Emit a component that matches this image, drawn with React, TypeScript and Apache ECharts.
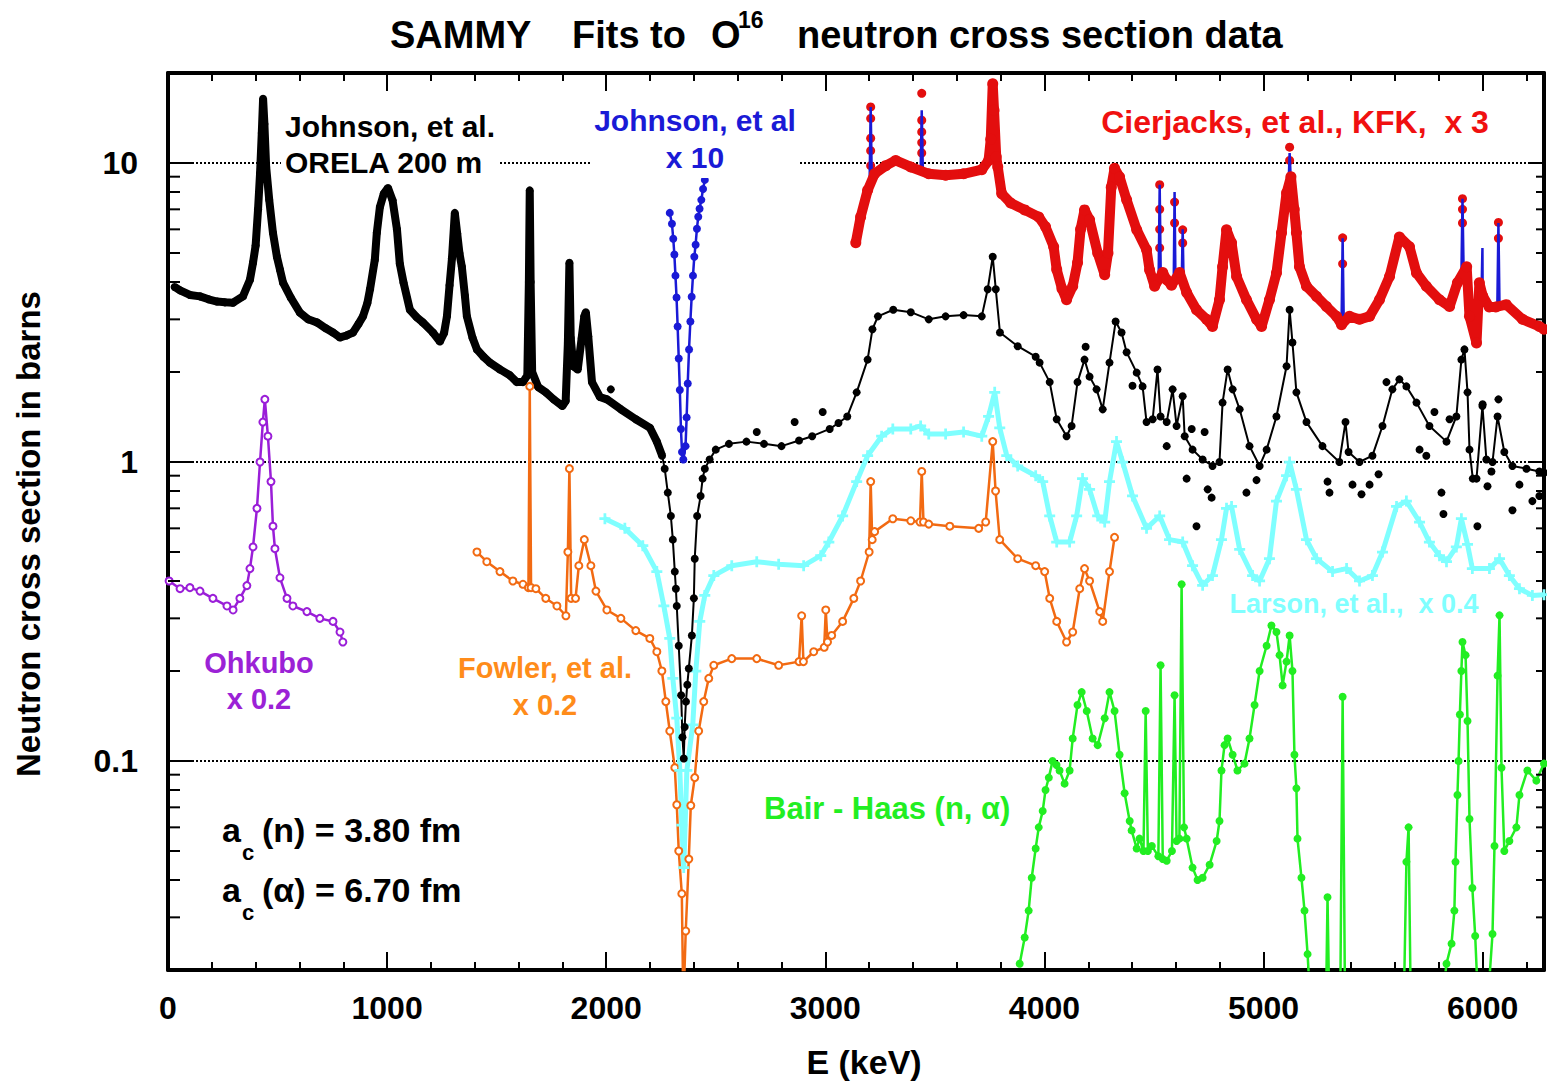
import React, { useEffect, useRef } from 'react';
import * as echarts from 'echarts';

const FONT = '"Liberation Sans", Arial, Helvetica, sans-serif';

// x-axis (keV) and y-axis (barns) ranges / tick labels
const xRange = [0, 6280];
const yRange = [0.02, 20];
const xMajorStep = 1000;
const xMinorStep = 200;
const yMinorMultipliers = [2, 3, 4, 5, 6, 7, 8, 9];
const yDecades = [-2, -1, 0, 1];

// Johnson et al., ORELA 200 m (data + fit)
const johnson: number[][] = [
  [30, 3.85], [55, 3.75], [100, 3.62], [146, 3.58], [185, 3.5], [224, 3.44], [260, 3.42], [297, 3.41], [342, 3.58],
  [374, 4.07], [388, 4.64], [400, 5.3], [411, 7.0], [420, 9.2], [428, 12.6], [434, 16.4], [440, 13.5], [448, 9.7],
  [462, 7.53], [479, 5.84], [497, 4.86], [511, 4.4], [525, 3.98], [560, 3.55], [602, 3.16], [640, 3.0], [680, 2.93],
  [720, 2.8], [753, 2.71], [785, 2.61], [815, 2.65], [844, 2.71], [870, 2.9], [890, 3.07], [910, 3.4], [922, 3.78],
  [944, 4.75], [953, 5.84], [967, 7.12], [985, 7.9], [1004, 8.25], [1025, 7.5], [1045, 6.0], [1058, 4.6], [1075, 3.98],
  [1104, 3.23], [1135, 3.05], [1163, 2.93], [1209, 2.71], [1241, 2.53], [1260, 2.7], [1273, 3.07], [1285, 3.9],
  [1296, 4.8], [1309, 6.81], [1320, 5.8], [1330, 5.0], [1341, 4.5], [1355, 3.6], [1364, 3.07], [1390, 2.6],
  [1410, 2.38], [1440, 2.25], [1469, 2.15], [1515, 2.04], [1560, 1.95], [1592, 1.85], [1620, 1.85], [1640, 1.95],
  [1647, 4.0], [1651, 8.1], [1655, 4.0], [1662, 2.0], [1690, 1.78], [1724, 1.71], [1760, 1.62], [1800, 1.54],
  [1815, 1.6], [1825, 2.5], [1832, 4.64], [1838, 2.6], [1850, 2.09], [1870, 2.04], [1888, 2.6], [1900, 3.07],
  [1907, 3.17], [1918, 2.63], [1935, 1.85], [1971, 1.65], [2003, 1.62], [2067, 1.5], [2135, 1.39], [2200, 1.3],
  [2231, 1.17], [2255, 1.05], [2267, 0.95], [2281, 0.79], [2295, 0.66], [2304, 0.55], [2313, 0.43], [2318, 0.377],
  [2322, 0.33], [2331, 0.243], [2342, 0.166], [2348, 0.12], [2354, 0.102], [2358, 0.13], [2364, 0.158], [2370, 0.18],
  [2377, 0.204], [2391, 0.263], [2400, 0.35], [2404, 0.475], [2415, 0.66], [2431, 0.77], [2440, 0.88], [2450, 0.95],
  [2472, 1.02], [2500, 1.1], [2560, 1.15], [2640, 1.17], [2720, 1.15], [2800, 1.13], [2880, 1.18], [2940, 1.22],
  [3020, 1.29], [3060, 1.35], [3100, 1.42], [3143, 1.71], [3193, 2.2], [3215, 2.78], [3240, 3.07], [3310, 3.23],
  [3390, 3.17], [3472, 3.0], [3549, 3.07], [3631, 3.1], [3714, 3.07], [3741, 3.78], [3764, 4.86], [3778, 3.78],
  [3797, 2.71], [3878, 2.44], [3960, 2.25], [3978, 2.15], [4024, 1.85], [4056, 1.39], [4101, 1.22], [4124, 1.32],
  [4151, 1.85], [4183, 2.2], [4206, 1.93], [4238, 1.75], [4266, 1.5], [4297, 2.15], [4325, 2.95], [4352, 2.71],
  [4375, 2.33], [4421, 1.99], [4448, 1.79], [4466, 1.36], [4494, 1.39], [4516, 2.04], [4530, 1.42], [4558, 1.36],
  [4585, 1.75], [4603, 1.32], [4631, 1.66], [4640, 1.22], [4676, 1.1], [4722, 1.02], [4767, 0.97], [4799, 1.0],
  [4813, 1.58], [4836, 2.04], [4859, 1.75], [4891, 1.5], [4936, 1.13], [4982, 0.97], [5014, 1.1], [5059, 1.42],
  [5105, 2.09], [5119, 3.23], [5132, 2.51], [5150, 1.71], [5196, 1.36], [5269, 1.13], [5346, 1.0], [5374, 1.36],
  [5388, 1.08], [5438, 1.0], [5497, 1.05], [5543, 1.32], [5588, 1.75], [5620, 1.89], [5652, 1.79], [5698, 1.58],
  [5757, 1.32], [5835, 1.17], [5880, 1.42], [5903, 2.2], [5917, 2.38], [5931, 1.71], [5940, 1.1], [5955, 0.88],
  [5972, 0.88], [5999, 1.54], [6017, 1.02], [6045, 1.0], [6068, 1.42], [6099, 1.08], [6136, 0.97], [6200, 0.95],
  [6259, 0.93], [6280, 0.92],
];
const johnsonBandEnd = 2255;
// scattered Johnson data points off the fit line
const johnsonScatter: number[][] = [
  [2021, 1.75], [2687, 1.26], [2860, 1.36], [2988, 1.47], [4188, 2.43], [4402, 1.8], [4558, 1.13], [4649, 0.88],
  [4672, 1.29], [4694, 0.61], [4731, 1.26], [4745, 0.81], [4763, 0.76], [4922, 0.79], [4968, 0.87], [5292, 0.86],
  [5301, 0.79], [5406, 0.84], [5447, 0.78], [5484, 0.84], [5525, 0.91], [5561, 1.85], [5712, 1.1], [5743, 1.05],
  [5780, 1.47], [5812, 0.79], [5821, 0.67], [5849, 1.39], [5976, 0.61], [6000, 1.56], [6022, 0.83], [6040, 0.93],
  [6072, 1.62], [6136, 0.69], [6168, 0.84], [6227, 0.74], [6259, 0.77],
];

// Johnson et al x 10 (dip region)
const johnsonX10: number[][] = [
  [2290, 6.81], [2300, 6.26], [2306, 5.58], [2311, 4.94], [2316, 4.2], [2321, 3.55], [2326, 2.84], [2331, 2.22],
  [2336, 1.74], [2341, 1.29], [2346, 1.08], [2352, 1.02], [2362, 1.13], [2367, 1.41], [2372, 1.83], [2378, 2.38],
  [2384, 2.95], [2390, 3.57], [2396, 4.2], [2402, 4.86], [2408, 5.33], [2414, 6.03], [2420, 6.61], [2426, 7.03],
  [2434, 7.53], [2442, 8.19], [2450, 8.78],
];

// Cierjacks et al., KFK x 3
const cierjacksBand: number[][] = [
  [3139, 5.41], [3161, 6.6], [3193, 8.1], [3225, 9.2], [3276, 9.8], [3321, 10.2], [3390, 9.7], [3472, 9.2],
  [3549, 9.1], [3631, 9.2], [3714, 9.5], [3745, 10.2], [3755, 12], [3764, 18.4], [3770, 15], [3780, 10.5],
  [3787, 9.7], [3805, 7.9], [3846, 7.35], [3910, 6.97], [3974, 6.6], [4005, 6.12], [4042, 5.25], [4056, 4.4],
  [4080, 3.8], [4101, 3.49], [4129, 3.87], [4151, 4.64], [4165, 6.0], [4183, 6.97], [4206, 6.46], [4243, 5.0],
  [4275, 4.23], [4290, 5.0], [4305, 8.3], [4320, 9.6], [4343, 8.98], [4375, 7.53], [4421, 5.98], [4466, 5.13],
  [4480, 4.39], [4503, 3.87], [4540, 4.3], [4558, 4.07], [4580, 3.9], [4617, 4.3], [4649, 3.69], [4694, 3.23],
  [4740, 3.0], [4767, 2.84], [4799, 3.49], [4813, 4.5], [4831, 5.98], [4854, 5.41], [4877, 4.17], [4922, 3.49],
  [4968, 3.0], [4991, 2.84], [5027, 3.49], [5059, 4.29], [5082, 5.84], [5105, 7.94], [5125, 9.0], [5140, 7.0],
  [5150, 5.84], [5164, 4.5], [5196, 3.87], [5242, 3.58], [5287, 3.31], [5333, 3.07], [5356, 2.88], [5392, 3.07],
  [5438, 3.0], [5484, 3.07], [5529, 3.49], [5575, 4.17], [5620, 5.66], [5666, 5.25], [5698, 4.29], [5743, 3.87],
  [5803, 3.49], [5849, 3.31], [5885, 3.98], [5927, 4.5], [5940, 3.07], [5972, 2.5], [5985, 3.98], [6000, 3.6],
  [6030, 3.3], [6060, 3.3], [6108, 3.36], [6182, 3.0], [6259, 2.84], [6280, 2.78],
];
const cierjacksSpikeDots: number[][] = [
  [3207, 15.4], [3207, 14.1], [3207, 12.1], [3207, 11.0], [3207, 9.8], [3440, 17.1], [3440, 13.9], [3440, 12.7],
  [3440, 11.7], [3440, 10.8], [4526, 8.46], [4526, 7.0], [4526, 6.0], [4526, 5.2], [4594, 7.4], [4594, 6.3],
  [4631, 5.98], [4631, 5.4], [5119, 11.3], [5119, 10.2], [5361, 5.62], [5361, 4.6], [5908, 7.6], [5908, 7.0],
  [5908, 6.3], [6072, 6.33], [6072, 5.6],
];
// fit through the narrow resonances (base, tip, base)
const cierjacksFitSpikes: number[][] = [
  [3202, 8.5], [3207, 15.4], [3212, 8.8],
  [3435, 9.4], [3440, 15.0], [3445, 9.4],
  [4521, 4.0], [4526, 8.46], [4531, 4.1],
  [4590, 3.9], [4594, 8.0], [4598, 4.0],
  [4627, 4.2], [4631, 6.0], [4635, 4.0],
  [5114, 8.3], [5119, 10.8], [5124, 8.9],
  [5361, 5.6], [5366, 2.95],
  [5903, 4.2], [5908, 7.6], [5913, 4.4],
  [5995, 3.7], [5999, 5.2], [6003, 3.6],
  [6067, 3.3], [6072, 6.3], [6077, 3.3],
];

// Larson et al. x 0.4
const larson: number[][] = [
  [1994, 0.646], [2085, 0.6], [2167, 0.525], [2231, 0.43], [2263, 0.33], [2290, 0.257], [2304, 0.189], [2322, 0.139],
  [2336, 0.093], [2345, 0.061], [2354, 0.044], [2368, 0.093], [2395, 0.132], [2409, 0.2], [2427, 0.293], [2450, 0.358],
  [2491, 0.417], [2573, 0.45], [2687, 0.464], [2787, 0.455], [2901, 0.45], [2979, 0.486], [3016, 0.54], [3079, 0.66],
  [3143, 0.86], [3193, 1.05], [3257, 1.22], [3308, 1.29], [3390, 1.29], [3435, 1.32], [3472, 1.24], [3549, 1.24],
  [3631, 1.26], [3714, 1.22], [3745, 1.42], [3773, 1.71], [3796, 1.3], [3828, 1.05], [3878, 0.97], [3960, 0.9],
  [3992, 0.86], [4024, 0.66], [4056, 0.54], [4115, 0.54], [4147, 0.66], [4174, 0.88], [4206, 0.81], [4243, 0.66],
  [4275, 0.63], [4297, 0.86], [4329, 1.17], [4357, 1.0], [4402, 0.77], [4466, 0.6], [4526, 0.66], [4571, 0.55],
  [4631, 0.54], [4676, 0.45], [4722, 0.387], [4767, 0.417], [4808, 0.55], [4831, 0.7], [4854, 0.71], [4891, 0.51],
  [4950, 0.417], [4982, 0.4], [5027, 0.475], [5059, 0.74], [5105, 0.9], [5119, 1.0], [5150, 0.81], [5196, 0.55],
  [5242, 0.475], [5315, 0.43], [5379, 0.44], [5438, 0.4], [5497, 0.417], [5543, 0.5], [5607, 0.71], [5652, 0.74],
  [5712, 0.63], [5757, 0.54], [5803, 0.486], [5835, 0.464], [5880, 0.52], [5903, 0.646], [5931, 0.53], [5953, 0.44],
  [6031, 0.44], [6077, 0.475], [6122, 0.417], [6168, 0.377], [6227, 0.358], [6280, 0.36],
];

// Fowler et al. x 0.2
const fowler: number[][] = [
  [1410, 0.5], [1455, 0.464], [1515, 0.43], [1574, 0.4], [1620, 0.39], [1645, 0.38], [1651, 1.79], [1657, 0.38],
  [1679, 0.377], [1724, 0.35], [1775, 0.33], [1816, 0.306], [1825, 0.5], [1832, 0.95], [1840, 0.35], [1860, 0.35],
  [1875, 0.45], [1900, 0.55], [1930, 0.45], [1953, 0.37], [2003, 0.32], [2067, 0.3], [2135, 0.273], [2199, 0.257],
  [2231, 0.232], [2254, 0.2], [2272, 0.158], [2290, 0.126], [2313, 0.095], [2322, 0.0714], [2331, 0.05],
  [2345, 0.036], [2352, 0.015], [2363, 0.027], [2377, 0.047], [2386, 0.071], [2404, 0.088], [2422, 0.126],
  [2445, 0.158], [2468, 0.189], [2491, 0.209], [2573, 0.22], [2687, 0.22], [2787, 0.209], [2880, 0.215],
  [2892, 0.306], [2900, 0.215], [2947, 0.232], [2995, 0.24], [3002, 0.32], [3010, 0.25], [3029, 0.263],
  [3079, 0.293], [3130, 0.35], [3161, 0.4], [3200, 0.5], [3207, 0.86], [3214, 0.55], [3225, 0.585], [3308, 0.646],
  [3390, 0.636], [3432, 0.63], [3440, 0.93], [3448, 0.63], [3472, 0.62], [3568, 0.61], [3700, 0.6], [3732, 0.63],
  [3764, 1.17], [3777, 0.8], [3796, 0.55], [3878, 0.475], [3960, 0.45], [4001, 0.43], [4024, 0.35], [4056, 0.293],
  [4101, 0.25], [4129, 0.27], [4161, 0.377], [4183, 0.44], [4206, 0.4], [4252, 0.316], [4266, 0.293], [4297, 0.43],
  [4320, 0.56],
];

// Ohkubo x 0.2
const ohkubo: number[][] = [
  [5, 0.4], [55, 0.377], [100, 0.38], [146, 0.37], [205, 0.35], [269, 0.33], [297, 0.32], [328, 0.35], [360, 0.386],
  [374, 0.44], [388, 0.52], [406, 0.7], [420, 1.0], [433, 1.36], [442, 1.62], [456, 1.22], [470, 0.86], [479, 0.61],
  [488, 0.513], [511, 0.41], [543, 0.35], [570, 0.33], [634, 0.316], [693, 0.3], [753, 0.293], [785, 0.27],
  [798, 0.25],
];

// Bair - Haas (n, alpha)
const bairHaas: number[][] = [
  [3887, 0.021], [3910, 0.0257], [3928, 0.0316], [3942, 0.0407], [3960, 0.051], [3974, 0.06], [3992, 0.068],
  [4005, 0.08], [4020, 0.088], [4037, 0.1], [4055, 0.097], [4069, 0.093], [4092, 0.084], [4115, 0.093],
  [4129, 0.119], [4151, 0.154], [4170, 0.17], [4193, 0.147], [4220, 0.119], [4243, 0.113], [4275, 0.139],
  [4297, 0.17], [4320, 0.147], [4343, 0.105], [4366, 0.078], [4389, 0.063], [4398, 0.0586], [4421, 0.051],
  [4434, 0.055], [4452, 0.05], [4462, 0.147], [4472, 0.05], [4490, 0.052], [4520, 0.048], [4530, 0.209],
  [4540, 0.047], [4558, 0.0464], [4582, 0.05], [4594, 0.166], [4603, 0.054], [4616, 0.055], [4626, 0.39],
  [4637, 0.06], [4649, 0.055], [4676, 0.044], [4699, 0.04], [4722, 0.0407], [4754, 0.045], [4786, 0.054],
  [4799, 0.063], [4808, 0.093], [4822, 0.113], [4836, 0.119], [4859, 0.105], [4881, 0.093], [4913, 0.098],
  [4936, 0.119], [4959, 0.154], [4982, 0.2], [5014, 0.243], [5036, 0.284], [5059, 0.27], [5073, 0.226],
  [5087, 0.179], [5105, 0.215], [5119, 0.263], [5132, 0.2], [5141, 0.105], [5150, 0.081], [5155, 0.055],
  [5173, 0.0407], [5187, 0.0316], [5201, 0.0226], [5215, 0.015], [5285, 0.015], [5292, 0.035], [5300, 0.015],
  [5350, 0.015], [5361, 0.164], [5372, 0.015], [5640, 0.015], [5652, 0.046], [5662, 0.06], [5672, 0.015],
  [5812, 0.015], [5835, 0.021], [5858, 0.0245], [5871, 0.0316], [5876, 0.046], [5885, 0.077], [5890, 0.1],
  [5896, 0.143], [5903, 0.2], [5908, 0.25], [5922, 0.226], [5931, 0.136], [5940, 0.064], [5953, 0.0376],
  [5966, 0.026], [5980, 0.015], [6022, 0.015], [6045, 0.0264], [6054, 0.052], [6068, 0.193], [6077, 0.307],
  [6086, 0.095], [6099, 0.05], [6122, 0.054], [6154, 0.06], [6168, 0.077], [6204, 0.093], [6245, 0.086],
  [6280, 0.098],
];

const BLACK = '#000000';
const BLUE = '#1A1AD6';
const RED = '#E30E0E';
const CYAN = '#7FFFFF';
const ORANGE = '#F26A12';
const PURPLE = '#9A1ED8';
const GREEN = '#22EE22';

const PLUS = 'path://M3,0H5V3H8V5H5V8H3V5H0V3H3Z';

function yLabel(v: number): string {
  const l = Math.log10(v);
  const e = Math.round(l);
  if (Math.abs(l - e) > 1e-6) return '';
  return e >= 0 ? String(Math.pow(10, e)) : Math.pow(10, e).toFixed(-e);
}

function lineSeries(name: string, data: number[][], color: string, extra: any = {}) {
  return {
    name,
    type: 'line',
    data,
    xAxisIndex: 0,
    yAxisIndex: 0,
    clip: true,
    silent: true,
    animation: false,
    emphasis: { disabled: true },
    lineStyle: { color, width: 2 },
    itemStyle: { color, opacity: 1 },
    symbol: 'circle',
    symbolSize: 7,
    ...extra,
  };
}

function scatterSeries(name: string, data: number[][], color: string, size: number) {
  return {
    name, type: 'scatter', data, xAxisIndex: 0, yAxisIndex: 0, symbol: 'circle', symbolSize: size,
    itemStyle: { color, opacity: 1 }, silent: true, clip: true, emphasis: { disabled: true },
  };
}

function buildOption(): any {
  const axisLineStyle = { show: true, onZero: false, lineStyle: { color: BLACK, width: 4 } };
  const tickStyle = { color: BLACK, width: 2 };
  const xBase = { type: 'value', min: xRange[0], max: xRange[1], splitLine: { show: false } };
  const yBase = { type: 'log', logBase: 10, min: yRange[0], max: yRange[1] };
  const cierjacksFit = [...cierjacksBand, ...cierjacksFitSpikes].sort((a, b) => a[0] - b[0]);
  return {
    animation: false,
    backgroundColor: '#ffffff',
    grid: { left: 168, right: 2, top: 73, bottom: 114, containLabel: false },
    xAxis: [
      {
        ...xBase, position: 'bottom', interval: xMajorStep,
        axisLine: axisLineStyle,
        axisTick: { show: true, inside: true, length: 18, lineStyle: tickStyle },
        axisLabel: {
          show: true, margin: 22, color: BLACK, fontSize: 32, fontWeight: 'bold', fontFamily: FONT,
          formatter: (v: number) => (v % xMajorStep === 0 ? String(v) : ''),
        },
      },
      {
        ...xBase, position: 'bottom', interval: xMinorStep,
        axisLine: { show: false, onZero: false },
        axisTick: { show: true, inside: true, length: 8, lineStyle: tickStyle },
        axisLabel: { show: false },
      },
      {
        ...xBase, position: 'top', interval: xMajorStep,
        axisLine: axisLineStyle,
        axisTick: { show: true, inside: true, length: 18, lineStyle: tickStyle },
        axisLabel: { show: false },
      },
      {
        ...xBase, position: 'top', interval: xMinorStep,
        axisLine: { show: false, onZero: false },
        axisTick: { show: true, inside: true, length: 8, lineStyle: tickStyle },
        axisLabel: { show: false },
      },
    ],
    yAxis: [
      {
        ...yBase, position: 'left',
        axisLine: axisLineStyle,
        axisTick: { show: true, inside: true, length: 25, lineStyle: tickStyle },
        axisLabel: {
          show: true, margin: 30, color: BLACK, fontSize: 32, fontWeight: 'bold', fontFamily: FONT,
          formatter: yLabel,
        },
        splitLine: { show: true, lineStyle: { color: BLACK, width: 2, type: [2, 2] } },
      },
      {
        ...yBase, position: 'right',
        axisLine: axisLineStyle,
        axisTick: { show: true, inside: true, length: 14, lineStyle: tickStyle },
        axisLabel: { show: false },
        splitLine: { show: false },
      },
    ],
    series: [
      lineSeries('Bair - Haas', bairHaas, GREEN, { symbolSize: 8, lineStyle: { color: GREEN, width: 2.5 } }),
      lineSeries('Ohkubo', ohkubo, PURPLE, {
        symbol: 'emptyCircle', symbolSize: 7, lineStyle: { color: PURPLE, width: 2.5 },
        itemStyle: { color: PURPLE, borderWidth: 2, opacity: 1 },
      }),
      lineSeries('Fowler', fowler, ORANGE, {
        symbol: 'emptyCircle', symbolSize: 7, lineStyle: { color: ORANGE, width: 2.5 },
        itemStyle: { color: ORANGE, borderWidth: 2, opacity: 1 },
      }),
      lineSeries('Larson', larson, CYAN, { symbol: PLUS, symbolSize: 11, lineStyle: { color: CYAN, width: 5 } }),
      lineSeries('Johnson band', johnson.filter((p) => p[0] <= johnsonBandEnd), BLACK, {
        showSymbol: false, symbol: 'none', lineStyle: { color: BLACK, width: 8 },
      }),
      lineSeries('Johnson', johnson, BLACK, { symbolSize: 8, lineStyle: { color: BLACK, width: 2 } }),
      scatterSeries('Johnson scatter', johnsonScatter, BLACK, 8),
      lineSeries('Johnson x10', johnsonX10, BLUE, { symbolSize: 8, lineStyle: { color: BLUE, width: 2.5 } }),
      lineSeries('Cierjacks fit', cierjacksFit, BLUE, {
        showSymbol: false, symbol: 'none', lineStyle: { color: BLUE, width: 2.5 },
      }),
      lineSeries('Cierjacks', cierjacksBand, RED, { symbolSize: 11, lineStyle: { color: RED, width: 10 } }),
      scatterSeries('Cierjacks spikes', cierjacksSpikeDots, RED, 9),
    ],
  };
}

function txt(text: string, x: number, y: number, color: string, size: number, align = 'left', extra: any = {}) {
  return {
    type: 'text',
    x,
    y,
    z: 100,
    silent: true,
    style: {
      text,
      fill: color,
      font: `bold ${size}px ${FONT}`,
      textAlign: align,
      textVerticalAlign: 'middle',
      align,
      verticalAlign: 'middle',
      ...extra,
    },
  };
}

export default function App() {
  const ref = useRef<HTMLDivElement>(null);
  useEffect(() => {
    document.body.style.margin = '0';
    const chart = echarts.init(ref.current!, null, { renderer: 'svg', width: 1547, height: 1084 });
    chart.setOption(buildOption());

    const xl = chart.convertToPixel({ xAxisIndex: 0 }, xRange[0]) as number;
    const xr = chart.convertToPixel({ xAxisIndex: 0 }, xRange[1]) as number;
    const ticks: any[] = [];
    yDecades.forEach((e) => {
      yMinorMultipliers.forEach((m) => {
        const v = m * Math.pow(10, e);
        if (v <= yRange[0] * 1.0001 || v >= yRange[1] * 0.9999) return;
        const py = chart.convertToPixel({ yAxisIndex: 0 }, v) as number;
        ticks.push({ type: 'line', z: 50, silent: true, shape: { x1: xl, y1: py, x2: xl + 12, y2: py }, style: { stroke: BLACK, lineWidth: 2 } });
        ticks.push({ type: 'line', z: 50, silent: true, shape: { x1: xr - 8, y1: py, x2: xr, y2: py }, style: { stroke: BLACK, lineWidth: 2 } });
      });
    });

    const bg = { backgroundColor: '#ffffff', padding: [2, 4], textBackgroundColor: '#ffffff', textPadding: [2, 4] };
    const texts = [
      // title
      txt('SAMMY', 390, 35, BLACK, 38),
      txt('Fits to', 572, 35, BLACK, 38),
      txt('O', 711, 35, BLACK, 38),
      txt('16', 738, 20, BLACK, 23),
      txt('neutron cross section data', 797, 35, BLACK, 38),
      // axis titles
      txt('E (keV)', 864, 1062, BLACK, 34, 'center'),
      { ...txt('Neutron cross section in barns', 28, 534, BLACK, 33, 'center'), rotation: Math.PI / 2 },
      // series annotations
      txt('Johnson, et al.\nORELA 200 m', 281, 144, BLACK, 30, 'left', { lineHeight: 36, ...bg }),
      txt('Johnson, et al\nx 10', 695, 139, BLUE, 30, 'center', { lineHeight: 37, ...bg }),
      txt('Cierjacks, et al., KFK,  x 3', 1295, 122, '#F01010', 32, 'center', bg),
      txt('Larson, et al.,  x 0.4', 1354, 604, '#80FFFF', 27, 'center'),
      txt('Fowler, et al.\nx 0.2', 545, 686, '#FF8C1A', 29, 'center', { lineHeight: 37 }),
      txt('Ohkubo\nx 0.2', 259, 681, '#9B22D6', 29, 'center', { lineHeight: 36 }),
      txt('Bair - Haas (n, α)', 764, 808, GREEN, 31, 'left'),
      txt('a', 222, 830, BLACK, 34),
      txt('c', 242, 852, BLACK, 22),
      txt('(n) = 3.80 fm', 262, 830, BLACK, 34),
      txt('a', 222, 890, BLACK, 34),
      txt('c', 242, 912, BLACK, 22),
      txt('(α) = 6.70 fm', 262, 890, BLACK, 34),
    ];
    chart.setOption({ graphic: { elements: [...ticks, ...texts] } });
    return () => chart.dispose();
  }, []);
  return <div ref={ref} style={{ width: 1547, height: 1084, overflow: 'hidden' }} />;
}
